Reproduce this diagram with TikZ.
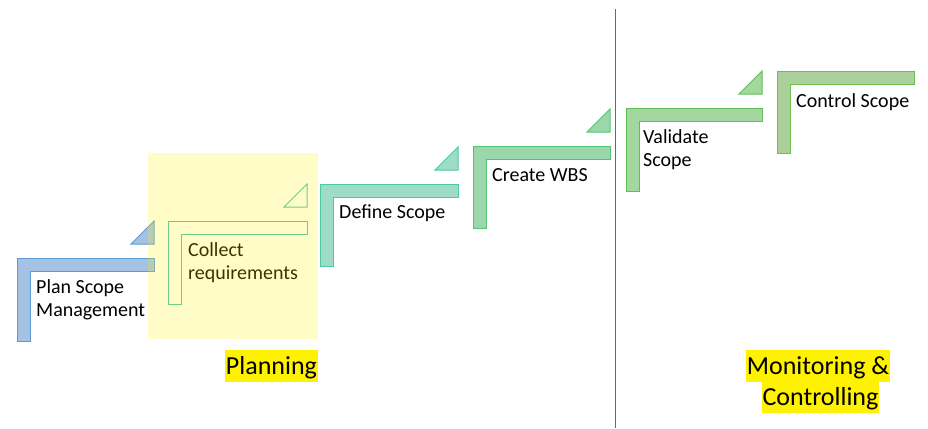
\documentclass[tikz,border=0pt]{standalone}
\usepackage{fontspec}
\setmainfont{Carlito}
\definecolor{planfill}{RGB}{165,194,229}
\definecolor{planline}{RGB}{91,155,213}
\definecolor{collectline}{RGB}{70,195,175}
\definecolor{definefill}{RGB}{158,220,200}
\definecolor{defineline}{RGB}{80,200,160}
\definecolor{createfill}{RGB}{155,215,170}
\definecolor{createline}{RGB}{85,195,115}
\definecolor{validfill}{RGB}{163,215,160}
\definecolor{validline}{RGB}{95,190,85}
\definecolor{controlfill}{RGB}{172,208,155}
\definecolor{controlline}{RGB}{110,190,80}
\definecolor{divider}{RGB}{80,105,170}
% one L-shaped step: left, top, right, bottom, style
\newcommand{\stepshape}[5]{%
  \draw[#5] (#1,#2) -- (#3,#2) -- (#3,#2+13) -- (#1+13,#2+13) -- (#1+13,#4) -- (#1,#4) -- cycle;}
% small triangle above the right end: right, top, style
\newcommand{\steptip}[3]{%
  \draw[#3] (#1-23,#2-14) -- (#1,#2-14) -- (#1,#2-37) -- cycle;}
\begin{document}
\begin{tikzpicture}
    [x=1pt, y=-1pt,
      stepbar/.style={line width=1pt, line join=miter},
      steptext/.style={anchor=base west, align=left, inner sep=0pt,
        font=\fontsize{20}{23}\selectfont},
      phase/.style={fill=yellow, anchor=base, inner xsep=1pt, inner ysep=0pt,
        text height=24pt, text depth=8pt, font=\fontsize{26}{32}\selectfont}]
    \useasboundingbox (0,0) rectangle (928,428);
    % steps
    \stepshape{17}{258}{154}{341}{stepbar, draw=planline, fill=planfill}
    \steptip{154}{258}{stepbar, draw=planline, fill=planfill}
    \stepshape{168}{221}{307}{304}{stepbar, draw=collectline}
    \steptip{307}{221}{stepbar, draw=collectline}
    \stepshape{320}{184}{458}{266}{stepbar, draw=defineline, fill=definefill}
    \steptip{458}{184}{stepbar, draw=defineline, fill=definefill}
    \stepshape{473}{146}{610}{228}{stepbar, draw=createline, fill=createfill}
    \steptip{610}{146}{stepbar, draw=createline, fill=createfill}
    \stepshape{626}{108}{762}{191}{stepbar, draw=validline, fill=validfill}
    \steptip{762}{108}{stepbar, draw=validline, fill=validfill}
    \stepshape{777}{71}{914}{153}{stepbar, draw=controlline, fill=controlfill}
    % step texts (two-line texts sit on their last line)
    \node[steptext] (plan) at (36,316) {Plan Scope\\Management};
    \node[steptext] (collect) at (188,279) {Collect\\requirements};
    \node[steptext] (define) at (339,218) {Define Scope};
    \node[steptext] (wbs) at (492,181) {Create WBS};
    \node[steptext] (validate) at (643,166) {Validate\\Scope};
    \node[steptext] (control) at (796,107) {Control Scope};
    % planning area
    \fill[yellow, opacity=0.22] (148,153) rectangle (318,339);
    \draw[divider, line width=0.8pt] (615,9) -- (615,428);
    % phases
    \node[phase] (planning) at (271.5,374) {Planning};
    \node[phase] (monitoring) at (818,374) {Monitoring \&};
    \node[phase] (controlling) at (820.5,405) {Controlling};
  \end{tikzpicture}
\end{document}
